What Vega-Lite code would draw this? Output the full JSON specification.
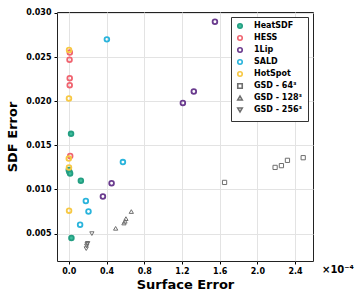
{
  "$schema": "https://vega.github.io/schema/vega-lite/v6.json",
  "autosize": {"type": "none"},
  "width": 256,
  "height": 249,
  "padding": {"left": 57, "top": 12, "right": 47, "bottom": 39},
  "background": "white",
  "config": {
    "font": "DejaVu Sans",
    "view": {"stroke": "#222222", "strokeWidth": 1}
  },
  "datasets": {
    "pts": [
      {"method": "HeatSDF", "x": 0.024, "y": 0.0163},
      {"method": "HeatSDF", "x": 0.0, "y": 0.0122},
      {"method": "HeatSDF", "x": 0.006, "y": 0.0120},
      {"method": "HeatSDF", "x": 0.014, "y": 0.0118},
      {"method": "HeatSDF", "x": 0.128, "y": 0.0110},
      {"method": "HeatSDF", "x": 0.028, "y": 0.0045},
      {"method": "HESS", "x": 0.011, "y": 0.0255},
      {"method": "HESS", "x": 0.008, "y": 0.0247},
      {"method": "HESS", "x": 0.01, "y": 0.0226},
      {"method": "HESS", "x": 0.01, "y": 0.0218},
      {"method": "HESS", "x": 0.015, "y": 0.0138},
      {"method": "1Lip", "x": 1.55, "y": 0.0290},
      {"method": "1Lip", "x": 1.326, "y": 0.0211},
      {"method": "1Lip", "x": 1.21, "y": 0.0198},
      {"method": "1Lip", "x": 0.454, "y": 0.0107},
      {"method": "1Lip", "x": 0.362, "y": 0.0092},
      {"method": "SALD", "x": 0.404, "y": 0.0270},
      {"method": "SALD", "x": 0.574, "y": 0.0131},
      {"method": "SALD", "x": 0.181, "y": 0.0087},
      {"method": "SALD", "x": 0.209, "y": 0.0075},
      {"method": "SALD", "x": 0.12, "y": 0.0060},
      {"method": "HotSpot", "x": 0.003, "y": 0.0258},
      {"method": "HotSpot", "x": 0.002, "y": 0.0203},
      {"method": "HotSpot", "x": 0.0, "y": 0.0135},
      {"method": "HotSpot", "x": 0.002, "y": 0.0125},
      {"method": "HotSpot", "x": 0.003, "y": 0.0076}
    ],
    "gsd": [
      {"method": "GSD - 64³", "x": 1.652, "y": 0.0108},
      {"method": "GSD - 64³", "x": 2.188, "y": 0.0125},
      {"method": "GSD - 64³", "x": 2.255, "y": 0.0127},
      {"method": "GSD - 64³", "x": 2.319, "y": 0.0133},
      {"method": "GSD - 64³", "x": 2.486, "y": 0.0136},
      {"method": "GSD - 128³", "x": 0.663, "y": 0.0075},
      {"method": "GSD - 128³", "x": 0.497, "y": 0.0056},
      {"method": "GSD - 128³", "x": 0.606, "y": 0.0067},
      {"method": "GSD - 128³", "x": 0.596, "y": 0.0064},
      {"method": "GSD - 128³", "x": 0.585, "y": 0.0062},
      {"method": "GSD - 256³", "x": 0.245, "y": 0.0050},
      {"method": "GSD - 256³", "x": 0.195, "y": 0.0038},
      {"method": "GSD - 256³", "x": 0.19, "y": 0.0036},
      {"method": "GSD - 256³", "x": 0.185, "y": 0.0033},
      {"method": "GSD - 256³", "x": 0.2, "y": 0.0039}
    ],
    "note": [{"label": "×10⁻⁴", "x": 2.59, "y": 0.0019}]
  },
  "layer": [
    {
      "data": {"name": "pts"},
      "mark": {"type": "point", "opacity": 1, "size": 22, "strokeWidth": 1.8},
      "encoding": {
        "x": {"field": "x", "type": "quantitative",
          "scale": {"domain": [-0.125, 2.59], "nice": false, "zero": false},
          "axis": {"values": [0, 0.4, 0.8, 1.2, 1.6, 2.0, 2.4], "format": ".1f",
            "title": "Surface Error", "titleFontSize": 13, "titleFontWeight": "bold", "titleColor": "#000",
            "labelFontSize": 8, "labelFontWeight": "bold", "labelColor": "#000",
            "gridColor": "#e3e3e3", "domain": false, "tickColor": "#000", "tickSize": 3, "labelPadding": 3, "titlePadding": 3}},
        "y": {"field": "y", "type": "quantitative",
          "scale": {"domain": [0.0019, 0.0301], "nice": false, "zero": false},
          "axis": {"values": [0.005, 0.010, 0.015, 0.020, 0.025, 0.030], "format": ".3f",
            "title": "SDF Error", "titleFontSize": 13, "titleFontWeight": "bold", "titleColor": "#000",
            "labelFontSize": 8, "labelFontWeight": "bold", "labelColor": "#000",
            "gridColor": "#e3e3e3", "domain": false, "tickColor": "#000", "tickSize": 3, "labelPadding": 3, "titlePadding": 6}},
        "stroke": {"field": "method", "type": "nominal",
          "scale": {"domain": ["HeatSDF", "HESS", "1Lip", "SALD", "HotSpot", "GSD - 64³", "GSD - 128³", "GSD - 256³"],
            "range": ["#239e82", "#f06470", "#6a3b8e", "#2ab4dc", "#f7c843", "#6e6e6e", "#6e6e6e", "#6e6e6e"]},
          "legend": {"orient": "top-right", "title": null, "strokeColor": "#333", "fillColor": "white",
            "padding": 5, "offset": 5, "labelFontSize": 8, "labelFontWeight": "bold", "labelColor": "#000",
            "symbolSize": 20, "symbolStrokeWidth": 1.6, "rowPadding": 0, "labelOffset": 10, "cornerRadius": 0}},
        "fill": {"field": "method", "type": "nominal",
          "scale": {"domain": ["HeatSDF", "HESS", "1Lip", "SALD", "HotSpot", "GSD - 64³", "GSD - 128³", "GSD - 256³"],
            "range": ["#3fbf9c", "transparent", "transparent", "transparent", "transparent", "transparent", "transparent", "transparent"]}},
        "shape": {"field": "method", "type": "nominal",
          "scale": {"domain": ["HeatSDF", "HESS", "1Lip", "SALD", "HotSpot", "GSD - 64³", "GSD - 128³", "GSD - 256³"],
            "range": ["circle", "circle", "circle", "circle", "circle", "square", "triangle-up", "triangle-down"]}}
      }
    },
    {
      "data": {"name": "gsd"},
      "mark": {"type": "point", "opacity": 1, "size": 18, "strokeWidth": 1},
      "encoding": {
        "x": {"field": "x", "type": "quantitative"},
        "y": {"field": "y", "type": "quantitative"},
        "stroke": {"field": "method", "type": "nominal"},
        "fill": {"field": "method", "type": "nominal"},
        "shape": {"field": "method", "type": "nominal"}
      }
    },
    {
      "data": {"name": "note"},
      "mark": {"type": "text", "align": "left", "baseline": "top", "dx": 9, "dy": 4,
        "fontSize": 10, "fontWeight": "bold", "color": "#000", "clip": false},
      "encoding": {
        "text": {"field": "label", "type": "nominal"},
        "x": {"field": "x", "type": "quantitative"},
        "y": {"field": "y", "type": "quantitative"}
      }
    }
  ]
}
